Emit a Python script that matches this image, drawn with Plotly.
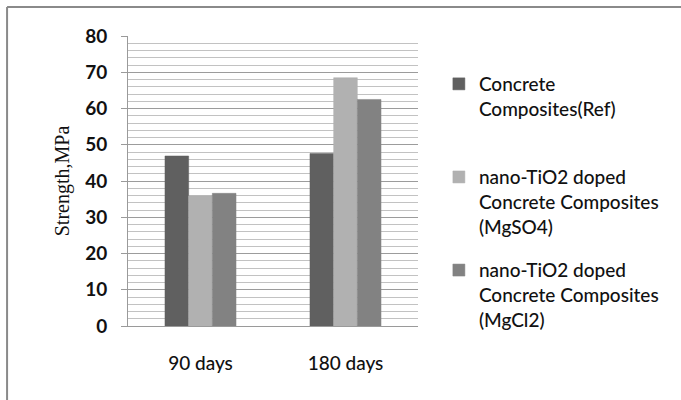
import plotly.graph_objects as go

categories = ["90 days", "180 days"]
series_names = [
    "Concrete<br>Composites(Ref)<br> ",
    "nano-TiO2 doped<br>Concrete Composites<br>(MgSO4)",
    "nano-TiO2 doped<br>Concrete Composites<br>(MgCl2)",
]
ref_values = [46.9, 47.6]
mgso4_values = [35.9, 68.5]
mgcl2_values = [36.6, 62.5]
colors = ["#606060", "#b1b1b1", "#828282"]
y_ticks = [0, 10, 20, 30, 40, 50, 60, 70, 80]

fig = go.Figure()
for i, (name, vals) in enumerate(zip(series_names, [ref_values, mgso4_values, mgcl2_values])):
    fig.add_trace(go.Bar(
        x=categories, y=vals, name=name, legendgroup=f"g{i}",
        marker=dict(color=colors[i], line=dict(color=colors[i], width=0.5)),
    ))

border = dict(color="#8a8a8a", width=2)
fig.update_layout(
    width=681, height=400,
    margin=dict(l=128, r=263, t=36, b=74),
    paper_bgcolor="white", plot_bgcolor="white",
    barmode="group", bargap=0.51, bargroupgap=0,
    font=dict(family="Lato, Open Sans, sans-serif", color="#111111"),
    legend=dict(
        x=1.072, xanchor="left", y=0.9, yanchor="top",
        valign="top", tracegroupgap=16,
        font=dict(family="Lato, Open Sans, sans-serif", size=19, color="#111111", weight=500),
        bgcolor="rgba(0,0,0,0)",
    ),
    showlegend=True,
    shapes=[
        dict(type="line", xref="paper", yref="paper", x0=-0.417, x1=2.3, y0=1.1, y1=1.1, line=border),
        dict(type="line", xref="paper", yref="paper", x0=-0.417, x1=-0.417, y0=-0.4, y1=1.1, line=border),
    ],
)

fig.update_yaxes(
    range=[0, 80], tickvals=y_ticks, ticktext=[str(v) for v in y_ticks],
    showgrid=True, gridcolor="#9c9c9c", gridwidth=1,
    minor=dict(dtick=2, showgrid=True, gridcolor="#c2c2c2", gridwidth=1),
    showline=True, linecolor="#9a9a9a", linewidth=1,
    ticks="outside", ticklen=6, tickcolor="#9a9a9a",
    tickfont=dict(family="Lato, Open Sans, sans-serif", size=19, color="#111111", weight="bold"),
    ticklabelstandoff=10,
    zeroline=False,
    title=dict(text="Strength,MPa", font=dict(family="Liberation Serif, Times New Roman, serif", size=20, color="#111111"), standoff=10),
)
fig.update_xaxes(
    showline=True, linecolor="#9a9a9a", linewidth=1,
    ticks="", showgrid=False,
    tickfont=dict(family="Lato, Open Sans, sans-serif", size=19, color="#111111", weight=500),
    ticklabelstandoff=20,
)

fig.write_html("out.html")
